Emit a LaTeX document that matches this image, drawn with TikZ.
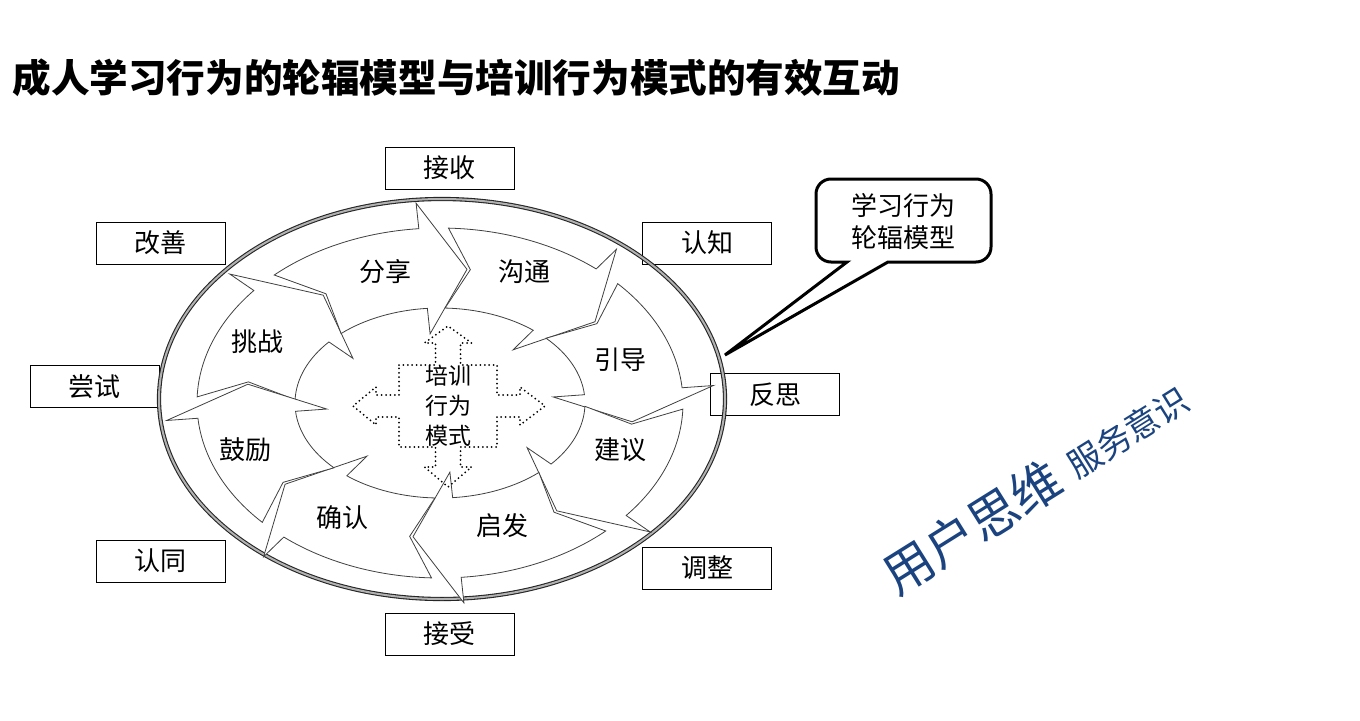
\documentclass[tikz,border=0pt]{standalone}
\usepackage{fontspec}
\newfontfamily\cjk{Noto Sans CJK SC}
\usepackage{tikz}
\usepackage{xcolor}
\definecolor{slogancol}{HTML}{1A437F}
\tikzset{x=0.5pt, y=0.5pt,
  titletext/.style={anchor=west, inner sep=0pt, font=\cjk\bfseries\fontsize{19.3pt}{24pt}\selectfont},
  labelbox/.style={draw, line width=0.5pt, minimum width=64.5pt, minimum height=21pt, inner sep=0pt, font=\cjk\fontsize{13pt}{15pt}\selectfont},
  ringtext/.style={inner sep=0pt, font=\cjk\fontsize{13pt}{16pt}\selectfont},
  ringarrow/.style={draw=black!75, line width=0.4pt, fill=white, line join=miter},
  wheelrim/.style={draw=black!85, line width=0.55pt, double=black!30, double distance=1pt},
  crossline/.style={line width=1pt, line cap=round, dash pattern=on 0pt off 2.2pt},
  slogan/.style={text=slogancol, inner sep=0pt, rotate=32}}
% one curved arrow of the wheel, tail at angle #1, running clockwise
\newcommand{\spoke}[1]{%
  \draw[ringarrow] ({243*cos(#1)},{175*sin(#1)})
    arc[start angle=#1, end angle=#1-38, x radius=121.5pt, y radius=87.5pt]
    -- ({274.4*cos(#1-38)},{200.6*sin(#1-38)})
    -- ({194*cos(#1-51)},{135*sin(#1-51)})
    -- ({113.6*cos(#1-38)},{69.4*sin(#1-38)})
    -- ({145*cos(#1-38)},{95*sin(#1-38)})
    arc[start angle=#1-38, end angle=#1, x radius=72.5pt, y radius=47.5pt]
    -- ({194*cos(#1-7)},{135*sin(#1-7)}) -- cycle;}

\begin{document}
\begin{tikzpicture}
\useasboundingbox (0,0) rectangle (1360,720);
\node[titletext] (title) at (12,642) {成人学习行为的轮辐模型与培训行为模式的有效互动};
% outer stages
\node[labelbox] (receive) at (449.5,552) {接收};
\node[labelbox] (cognize) at (707,477) {认知};
\node[labelbox] (reflect) at (775,325.5) {反思};
\node[labelbox] (adjust) at (707,152) {调整};
\node[labelbox] (accept) at (449.5,86) {接受};
\node[labelbox] (agree) at (160.5,159) {认同};
\node[labelbox] (attempt) at (94.5,333.5) {尝试};
\node[labelbox] (improve) at (160.5,477) {改善};
% wheel
\draw[wheelrim] (442,321) ellipse [x radius=141.5pt, y radius=100pt];
\begin{scope}[shift={(440,317)}]
  \foreach \a in {178,133,88,43,-2,-47,-92,-137}
    \spoke{\a};
\end{scope}
\node[ringtext] (share) at (385,448) {分享};
\node[ringtext] (talk) at (524,448) {沟通};
\node[ringtext] (guide) at (620,360) {引导};
\node[ringtext] (advise) at (620,270) {建议};
\node[ringtext] (inspire) at (502,194) {启发};
\node[ringtext] (confirm) at (342,202) {确认};
\node[ringtext] (cheer) at (245,270) {鼓励};
\node[ringtext] (challenge) at (257,378) {挑战};
% training behaviour in the middle
\begin{scope}[shift={(448,314)}]
  \draw[crossline] (-49,41) -- (-12.5,41) -- (-12.5,63) -- (-23.5,63) -- (0,80)
    -- (23.5,63) -- (12.5,63) -- (12.5,41) -- (49,41) -- (49,11) -- (72,11)
    -- (72,19) -- (97,0) -- (72,-19) -- (72,-11) -- (49,-11) -- (49,-41)
    -- (12.5,-41) -- (12.5,-61) -- (23.5,-61) -- (0,-81) -- (-23.5,-61)
    -- (-12.5,-61) -- (-12.5,-41) -- (-49,-41) -- (-49,-11) -- (-72,-11)
    -- (-72,-19) -- (-95,0) -- (-72,19) -- (-72,11) -- (-49,11) -- cycle;
\end{scope}
\node[ringtext, align=center, font=\cjk\fontsize{11.5pt}{15pt}\selectfont] (train) at (448,314) {培训\\行为\\模式};
% callout
\coordinate (tip) at (725,365);
\draw[line width=1.5pt, fill=white] (816,473) -- (816,526) arc[start angle=180, end angle=90, radius=7.5pt]
  -- (976,541) arc[start angle=90, end angle=0, radius=7.5pt]
  -- (991,473) arc[start angle=0, end angle=-90, radius=7.5pt]
  -- (888,458) -- (tip) -- (847,458) -- (831,458) arc[start angle=270, end angle=180, radius=7.5pt] -- cycle;
\node[ringtext, align=center] (model) at (903,499) {学习行为\\轮辐模型};
% slogan
\node[slogan, font=\cjk\fontsize{25pt}{30pt}\selectfont] (user) at (972,193) {用户思维};
\node[slogan, font=\cjk\fontsize{17pt}{20pt}\selectfont] (service) at (1128,288) {服务意识};
\end{tikzpicture}
\end{document}
